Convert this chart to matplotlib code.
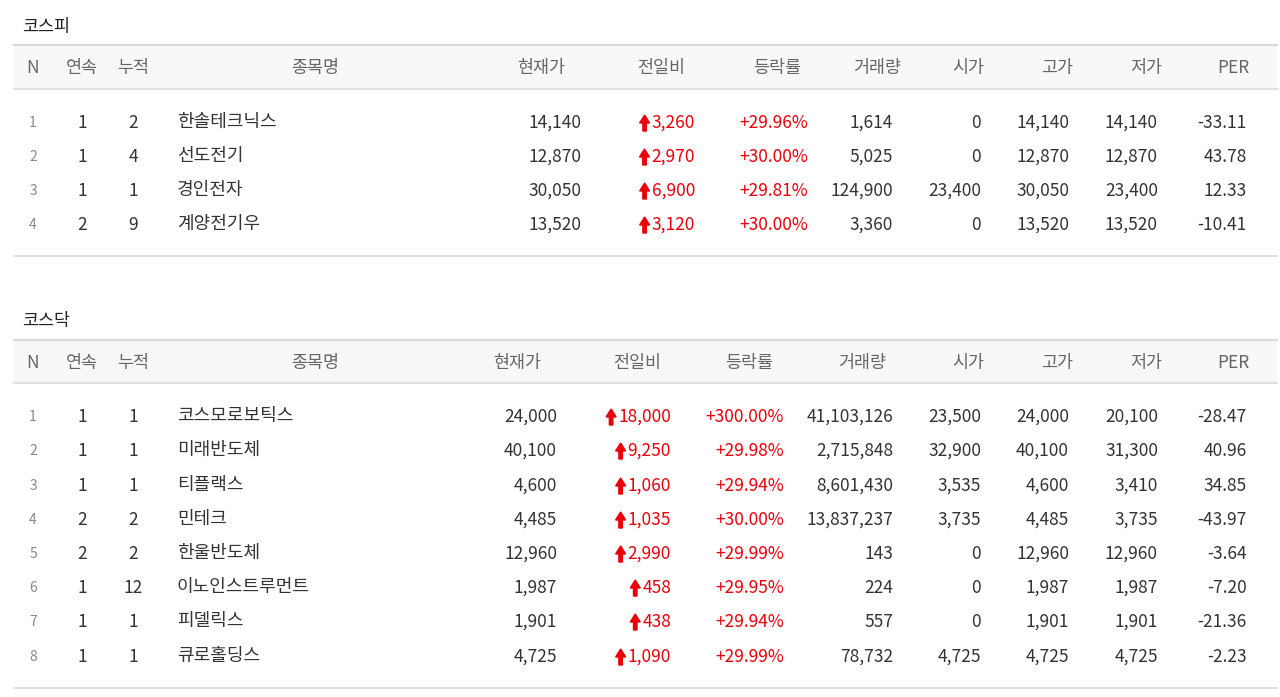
import matplotlib
matplotlib.use("Agg")
import matplotlib.pyplot as plt
from matplotlib.patches import Rectangle, FancyArrow
from matplotlib.lines import Line2D

plt.rcParams['font.family'] = ['Noto Sans CJK KR', 'DejaVu Sans']

headers = ["N", "연속", "누적", "종목명", "현재가", "전일비", "등락률", "거래량", "시가", "고가", "저가", "PER"]

kospi_cont = [1, 1, 1, 2]
kospi_cum = [2, 4, 1, 9]
kospi_names = ["한솔테크닉스", "선도전기", "경인전자", "계양전기우"]
kospi_price = ["14,140", "12,870", "30,050", "13,520"]
kospi_diff = ["3,260", "2,970", "6,900", "3,120"]
kospi_rate = ["+29.96%", "+30.00%", "+29.81%", "+30.00%"]
kospi_vol = ["1,614", "5,025", "124,900", "3,360"]
kospi_open = ["0", "0", "23,400", "0"]
kospi_high = ["14,140", "12,870", "30,050", "13,520"]
kospi_low = ["14,140", "12,870", "23,400", "13,520"]
kospi_per = ["-33.11", "43.78", "12.33", "-10.41"]

kosdaq_cont = [1, 1, 1, 2, 2, 1, 1, 1]
kosdaq_cum = [1, 1, 1, 2, 2, 12, 1, 1]
kosdaq_names = ["코스모로보틱스", "미래반도체", "티플랙스", "민테크", "한울반도체", "이노인스트루먼트", "피델릭스", "큐로홀딩스"]
kosdaq_price = ["24,000", "40,100", "4,600", "4,485", "12,960", "1,987", "1,901", "4,725"]
kosdaq_diff = ["18,000", "9,250", "1,060", "1,035", "2,990", "458", "438", "1,090"]
kosdaq_rate = ["+300.00%", "+29.98%", "+29.94%", "+30.00%", "+29.99%", "+29.95%", "+29.94%", "+29.99%"]
kosdaq_vol = ["41,103,126", "2,715,848", "8,601,430", "13,837,237", "143", "224", "557", "78,732"]
kosdaq_open = ["23,500", "32,900", "3,535", "3,735", "0", "0", "0", "4,725"]
kosdaq_high = ["24,000", "40,100", "4,600", "4,485", "12,960", "1,987", "1,901", "4,725"]
kosdaq_low = ["20,100", "31,300", "3,410", "3,735", "12,960", "1,987", "1,901", "4,725"]
kosdaq_per = ["-28.47", "40.96", "34.85", "-43.97", "-3.64", "-7.20", "-21.36", "-2.23"]

W, H = 1280, 697
fig = plt.figure(figsize=(W/100, H/100), dpi=100)
RED = "#e8000b"
TXT = "#333333"
HDR = "#666666"

def t(x, y, s, ha="left", color=TXT, size=12.5, **kw):
    return fig.text(x/W, 1-y/H, s, ha=ha, va="center", color=color, fontsize=size, **kw)

def hline(y, color="#dddddd", lw=1.2):
    fig.add_artist(Line2D([14/W, 1277/W], [1-y/H, 1-y/H], color=color, lw=lw))

arrows = []

def table(title, ty, band_top, band_bot, rows_y, bottom, cols, data):
    t(22, ty, title, color="#222222", size=12.5)
    fig.add_artist(Rectangle((14/W, 1-band_bot/H), 1263/W, (band_bot-band_top)/H, color="#f8f8f8", lw=0))
    hline(band_top, "#d8d8d8", 1.5)
    hline(band_bot, "#e0e0e0", 1.5)
    hline(bottom, "#e0e0e0", 1.5)
    hy = (band_top + band_bot)/2
    for h, x in zip(headers, cols["hdr"]):
        t(x, hy + 1, h, ha="center", color=HDR, size=12.5)
    cont, cum, names, price, diff, rate, vol, op, hi, lo, per = data
    r = cols["right"]
    for i, y in enumerate(rows_y):
        y = y + 1
        t(33, y, str(i+1), ha="center", color="#888888", size=10)
        t(82, y, str(cont[i]), ha="center")
        t(133, y, str(cum[i]), ha="center")
        t(177, y - 1, names[i], ha="left", size=13)
        t(r[0], y, price[i], ha="right")
        d = t(r[1], y, diff[i], ha="right", color=RED)
        arrows.append((d, y))
        t(r[2], y, rate[i], ha="right", color=RED)
        t(r[3], y, vol[i], ha="right")
        t(r[4], y, op[i], ha="right")
        t(r[5], y, hi[i], ha="right")
        t(r[6], y, lo[i], ha="right")
        t(r[7], y, per[i], ha="right")

table("코스피", 27, 45, 89, [122, 156, 190, 224], 256,
      {"hdr": [33, 82, 133, 315, 541, 661, 777, 877, 968, 1057, 1146, 1233],
       "right": [581, 695, 808, 893, 981, 1069, 1158, 1247]},
      (kospi_cont, kospi_cum, kospi_names, kospi_price, kospi_diff, kospi_rate,
       kospi_vol, kospi_open, kospi_high, kospi_low, kospi_per))

table("코스닥", 321, 340, 383, [416, 450, 485, 519, 553, 587, 621, 656], 688,
      {"hdr": [33, 82, 133, 315, 517, 637, 749, 862, 968, 1057, 1146, 1233],
       "right": [557, 671, 784, 893, 981, 1069, 1158, 1247]},
      (kosdaq_cont, kosdaq_cum, kosdaq_names, kosdaq_price, kosdaq_diff, kosdaq_rate,
       kosdaq_vol, kosdaq_open, kosdaq_high, kosdaq_low, kosdaq_per))

fig.canvas.draw()
rnd = fig.canvas.get_renderer()
for d, y in arrows:
    bb = d.get_window_extent(rnd)
    axp = bb.x0 - 7
    yb = H - y - 8
    fig.add_artist(FancyArrow(axp/W, yb/H, 0, 16/H, width=3.5/W, head_width=10/W,
                              head_length=8/H, length_includes_head=True,
                              color=RED, transform=fig.transFigure))
fig.savefig("out.png", dpi=100)
